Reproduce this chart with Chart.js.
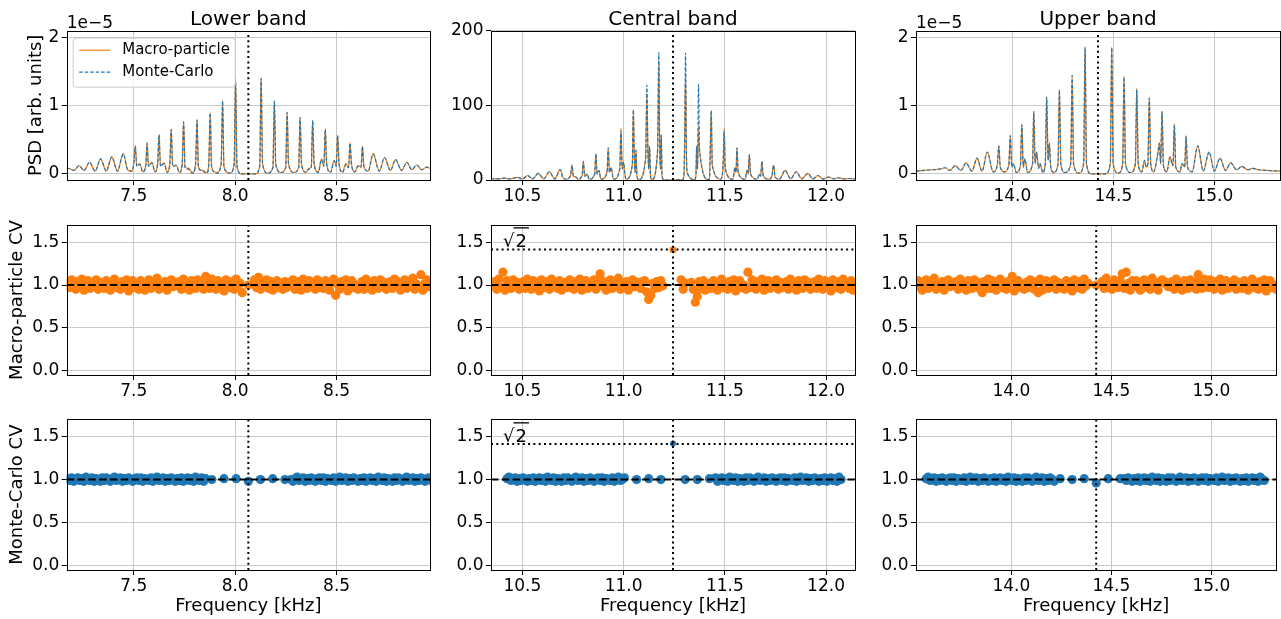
<!DOCTYPE html>
<html>
<head>
<meta charset="utf-8">
<script src="https://cdn.jsdelivr.net/npm/chart.js@4.4.1/dist/chart.umd.min.js"></script>
<style>
  body { margin: 0; background: #fff; width: 1281px; height: 619px; overflow: hidden; position: relative; }
  canvas { position: absolute; }
</style>
</head>
<body>
<script>
// ---- labels ----
const bandTitles = ['Lower band', 'Central band', 'Upper band'];
const legendLabels = ['Macro-particle', 'Monte-Carlo'];
const yTitles = ['PSD [arb. units]', 'Macro-particle CV', 'Monte-Carlo CV'];
const xTitle = 'Frequency [kHz]';
const offsetText = '1e\u22125';

// ---- axes ----
const xRanges = [[7.170, 8.960], [10.345, 12.143], [13.523, 15.325]];
const bandCenters = [8.065, 11.244, 14.424];
const sqrtTwo = 1.414;

// ---- PSD spectra (lower band, units of 1e-5) ----
const lowFreq = [7.170, 7.180, 7.205, 7.231, 7.255, 7.283, 7.310, 7.337, 7.365, 7.392,
  7.420, 7.449, 7.470, 7.490, 7.500, 7.508, 7.515, 7.530, 7.545, 7.560,
  7.566, 7.573, 7.590, 7.605, 7.618, 7.625, 7.632, 7.650, 7.665, 7.678,
  7.685, 7.692, 7.710, 7.725, 7.739, 7.746, 7.753, 7.770, 7.790, 7.805,
  7.812, 7.819, 7.840, 7.860, 7.870, 7.877, 7.884, 7.910, 7.931, 7.938,
  7.945, 7.975, 7.995, 8.002, 8.009, 8.030, 8.065, 8.100, 8.121, 8.128,
  8.135, 8.160, 8.186, 8.193, 8.200, 8.225, 8.249, 8.256, 8.263, 8.290,
  8.313, 8.320, 8.327, 8.350, 8.362, 8.375, 8.382, 8.389, 8.410, 8.425,
  8.437, 8.444, 8.451, 8.470, 8.488, 8.498, 8.505, 8.512, 8.530, 8.545,
  8.559, 8.566, 8.573, 8.590, 8.605, 8.620, 8.627, 8.634, 8.655, 8.680,
  8.710, 8.736, 8.765, 8.790, 8.820, 8.846, 8.870, 8.895, 8.920, 8.944,
  8.960];
const lowMacro = [0.07, 0.08, 0.05, 0.12, 0.05, 0.17, 0.04, 0.22, 0.04, 0.25,
  0.04, 0.30, 0.06, 0.04, 0.15, 0.42, 0.12, 0.15, 0.03, 0.14,
  0.46, 0.12, 0.17, 0.03, 0.15, 0.58, 0.12, 0.16, 0.03, 0.15,
  0.66, 0.12, 0.13, 0.02, 0.15, 0.77, 0.10, 0.08, 0.02, 0.15,
  0.80, 0.10, 0.05, 0.02, 0.15, 0.90, 0.10, 0.02, 0.15, 1.08,
  0.10, 0.01, 0.15, 1.40, 0.12, 0.00, 0.00, 0.00, 0.12, 1.41,
  0.15, 0.01, 0.10, 1.06, 0.15, 0.02, 0.10, 0.91, 0.15, 0.02,
  0.10, 0.82, 0.15, 0.02, 0.08, 0.10, 0.78, 0.15, 0.03, 0.22,
  0.12, 0.66, 0.15, 0.03, 0.20, 0.12, 0.57, 0.15, 0.03, 0.15,
  0.10, 0.46, 0.15, 0.03, 0.12, 0.10, 0.41, 0.12, 0.04, 0.30,
  0.04, 0.24, 0.05, 0.21, 0.05, 0.17, 0.06, 0.13, 0.06, 0.10,
  0.08];
const lowMonte = [0.07, 0.08, 0.05, 0.12, 0.05, 0.17, 0.04, 0.22, 0.04, 0.25,
  0.04, 0.29, 0.06, 0.04, 0.14, 0.40, 0.11, 0.14, 0.03, 0.13,
  0.45, 0.11, 0.16, 0.03, 0.14, 0.57, 0.11, 0.15, 0.02, 0.14,
  0.65, 0.11, 0.12, 0.02, 0.14, 0.76, 0.09, 0.07, 0.01, 0.14,
  0.79, 0.09, 0.04, 0.01, 0.14, 0.89, 0.09, 0.01, 0.14, 1.07,
  0.09, 0.01, 0.14, 1.37, 0.11, 0.00, 0.00, 0.00, 0.11, 1.40,
  0.14, 0.01, 0.09, 1.07, 0.14, 0.02, 0.09, 0.90, 0.14, 0.02,
  0.09, 0.83, 0.14, 0.02, 0.07, 0.09, 0.79, 0.14, 0.02, 0.21,
  0.11, 0.65, 0.14, 0.02, 0.19, 0.11, 0.56, 0.14, 0.02, 0.14,
  0.09, 0.45, 0.14, 0.03, 0.11, 0.09, 0.40, 0.11, 0.04, 0.29,
  0.04, 0.24, 0.05, 0.21, 0.05, 0.17, 0.06, 0.13, 0.06, 0.10,
  0.08];

// ---- PSD spectra (central band) ----
const centFreq = [10.345, 10.380, 10.410, 10.440, 10.477, 10.500, 10.526, 10.550, 10.579, 10.605,
  10.633, 10.660, 10.687, 10.700, 10.715, 10.738, 10.745, 10.752, 10.765, 10.775,
  10.795, 10.801, 10.808, 10.820, 10.830, 10.857, 10.863, 10.869, 10.878, 10.888,
  10.918, 10.924, 10.930, 10.938, 10.950, 10.981, 10.987, 10.993, 11.000, 11.006,
  11.012, 11.043, 11.048, 11.053, 11.057, 11.061, 11.066, 11.075, 11.109, 11.115,
  11.120, 11.124, 11.128, 11.133, 11.140, 11.168, 11.174, 11.178, 11.182, 11.186,
  11.190, 11.200, 11.244, 11.290, 11.298, 11.302, 11.306, 11.310, 11.314, 11.350,
  11.357, 11.361, 11.365, 11.370, 11.375, 11.420, 11.425, 11.428, 11.433, 11.438,
  11.480, 11.488, 11.492, 11.497, 11.502, 11.540, 11.550, 11.555, 11.560, 11.566,
  11.600, 11.610, 11.615, 11.621, 11.627, 11.660, 11.672, 11.677, 11.683, 11.690,
  11.720, 11.733, 11.741, 11.748, 11.770, 11.798, 11.825, 11.853, 11.880, 11.910,
  11.935, 11.960, 11.985, 12.012, 12.040, 12.060, 12.090, 12.110, 12.143];
const centMacro = [2, 1.5, 2.5, 1.5, 3.6, 1.5, 6, 1.5, 9, 1.5,
  11, 1.5, 14, 3, 1, 6, 20, 5, 4, 1,
  6, 25, 5, 8, 1, 8, 35, 8, 13, 1,
  10, 43, 10, 17, 1, 15, 70, 15, 24, 8,
  1, 20, 94, 30, 10, 40, 5, 0.5, 30, 116,
  40, 15, 45, 5, 0.5, 40, 160, 50, 15, 60,
  5, 0.3, 0, 0.3, 5, 60, 142, 40, 10, 0.5,
  5, 45, 15, 72, 40, 0.5, 5, 40, 92, 20,
  1, 8, 24, 70, 15, 1, 17, 10, 43, 10,
  1, 13, 8, 34, 8, 1, 8, 5, 25, 5,
  1, 6, 20, 4, 1, 13, 1.5, 11, 1.5, 9,
  1.5, 6, 1.5, 4, 1.5, 3, 1.5, 2, 1.5];
const centMonte = [2, 1.5, 2.5, 1.5, 3.6, 1.5, 6, 1.5, 9, 1.5,
  11, 1.5, 14, 3, 1, 6, 20, 5, 4, 1,
  6, 25, 5, 8, 1, 8, 35, 8, 13, 1,
  10, 43, 10, 17, 1, 15, 66, 15, 24, 8,
  1, 20, 94, 30, 10, 40, 5, 0.5, 30, 127,
  40, 15, 45, 5, 0.5, 40, 171, 50, 15, 60,
  5, 0.3, 0, 0.3, 5, 60, 170, 40, 10, 0.5,
  5, 45, 15, 128, 40, 0.5, 5, 40, 93, 20,
  1, 8, 24, 66, 15, 1, 17, 10, 43, 10,
  1, 13, 8, 34, 8, 1, 8, 5, 25, 5,
  1, 6, 20, 4, 1, 13, 1.5, 11, 1.5, 9,
  1.5, 6, 1.5, 4, 1.5, 3, 1.5, 2, 1.5];

// ---- PSD spectra (upper band, units of 1e-5) ----
const upFreq = [13.523, 13.560, 13.600, 13.640, 13.668, 13.690, 13.718, 13.745, 13.771, 13.800,
  13.825, 13.850, 13.876, 13.905, 13.925, 13.933, 13.940, 13.960, 13.982, 13.990,
  13.997, 14.005, 14.020, 14.040, 14.047, 14.054, 14.062, 14.075, 14.100, 14.106,
  14.113, 14.120, 14.130, 14.137, 14.150, 14.163, 14.170, 14.177, 14.183, 14.190,
  14.205, 14.226, 14.233, 14.240, 14.260, 14.289, 14.296, 14.303, 14.330, 14.353,
  14.360, 14.367, 14.390, 14.424, 14.460, 14.485, 14.492, 14.499, 14.525, 14.546,
  14.553, 14.560, 14.585, 14.609, 14.616, 14.623, 14.640, 14.655, 14.662, 14.671,
  14.678, 14.685, 14.700, 14.720, 14.728, 14.734, 14.741, 14.748, 14.765, 14.780,
  14.795, 14.802, 14.809, 14.830, 14.840, 14.853, 14.860, 14.867, 14.890, 14.918,
  14.945, 14.974, 15.000, 15.028, 15.055, 15.081, 15.110, 15.136, 15.165, 15.190,
  15.220, 15.260, 15.325];
const upMacro = [0.04, 0.05, 0.06, 0.07, 0.09, 0.05, 0.12, 0.05, 0.16, 0.04,
  0.23, 0.04, 0.32, 0.03, 0.12, 0.41, 0.10, 0.03, 0.12, 0.57,
  0.10, 0.15, 0.02, 0.12, 0.73, 0.10, 0.22, 0.02, 0.15, 0.92,
  0.15, 0.32, 0.08, 0.15, 0.02, 0.15, 1.13, 0.20, 0.45, 0.10,
  0.02, 0.15, 1.24, 0.15, 0.02, 0.15, 1.45, 0.15, 0.01, 0.15,
  1.87, 0.15, 0.00, 0.00, 0.00, 0.15, 1.86, 0.15, 0.01, 0.15,
  1.43, 0.15, 0.02, 0.15, 1.25, 0.15, 0.03, 0.20, 0.10, 0.15,
  1.12, 0.15, 0.03, 0.30, 0.45, 0.15, 0.92, 0.12, 0.03, 0.25,
  0.12, 0.73, 0.10, 0.03, 0.15, 0.10, 0.56, 0.10, 0.03, 0.41,
  0.04, 0.32, 0.04, 0.23, 0.05, 0.16, 0.06, 0.11, 0.06, 0.08,
  0.06, 0.05, 0.04];
const upMonte = [0.04, 0.05, 0.06, 0.07, 0.09, 0.05, 0.12, 0.05, 0.16, 0.04,
  0.23, 0.04, 0.32, 0.03, 0.12, 0.41, 0.10, 0.03, 0.12, 0.56,
  0.10, 0.15, 0.02, 0.12, 0.72, 0.10, 0.22, 0.02, 0.15, 0.91,
  0.15, 0.32, 0.08, 0.15, 0.02, 0.15, 1.12, 0.20, 0.45, 0.10,
  0.02, 0.15, 1.23, 0.15, 0.02, 0.15, 1.44, 0.15, 0.01, 0.15,
  1.85, 0.15, 0.00, 0.00, 0.00, 0.15, 1.85, 0.15, 0.01, 0.15,
  1.42, 0.15, 0.02, 0.15, 1.24, 0.15, 0.03, 0.20, 0.10, 0.15,
  1.11, 0.15, 0.03, 0.30, 0.45, 0.15, 0.91, 0.12, 0.03, 0.25,
  0.12, 0.72, 0.10, 0.03, 0.15, 0.10, 0.55, 0.10, 0.03, 0.41,
  0.04, 0.32, 0.04, 0.23, 0.05, 0.16, 0.06, 0.11, 0.06, 0.08,
  0.06, 0.05, 0.04];

// ---- CV per frequency bin (bin i sits at binStart + i * binStep) ----
const binStart = [7.175, 10.354, 13.534];
const binStep = 0.01;
const lowMacroCV = [
  1.03, 0.97, 1.06, 1.00, 0.95, 1.04, 0.98, 1.07, 0.94, 1.01, 1.05, 0.96, 1.02, 0.99, 1.06, 0.95, 1.03, 0.97,
  0.96, 1.05, 0.99, 0.94, 1.03, 1.07, 0.97, 1.01, 0.95, 1.04, 0.98, 1.06, 0.93, 1.02, 1.05, 0.97, 1.00, 0.95,
  1.05, 0.98, 0.94, 1.02, 1.06, 0.96, 1.03, 0.99, 1.08, 0.95, 1.01, 0.97, 1.04, 0.94, 1.02, 1.06, 0.98, 1.03,
  0.99, 1.04, 0.95, 1.07, 0.97, 1.02, 0.94, 1.05, 1.00, 0.96, 1.06, 0.98, 1.03, 0.95, 1.10, 1.04, 0.96, 1.07,
  1.02, 0.95, 1.05, 0.98, 1.03, 0.93, 1.06, 1.00, 0.97, 1.04, 0.95, 1.07, 0.99, 1.02, 0.91, null, null, 1.00,
  null, null, 1.06, 0.97, 1.09, 0.95, 1.03, 0.99, 1.06, 0.96, 1.04, 0.94, 1.02, 1.05, 0.97, 1.01, 0.95, 1.04,
  0.97, 1.03, 1.00, 1.06, 0.95, 0.98, 1.04, 0.94, 1.07, 1.01, 0.96, 1.05, 0.99, 1.02, 0.95, 1.06, 0.97, 1.03,
  0.96, 1.05, 0.99, 0.94, 1.03, 1.07, 0.88, 1.01, 0.95, 1.04, 0.98, 1.06, 0.93, 1.02, 1.05, 0.97, 1.00, 0.95,
  0.99, 1.04, 0.95, 1.07, 0.97, 1.02, 0.94, 1.05, 1.00, 0.96, 1.06, 0.98, 1.03, 0.95, 1.01, 1.04, 0.96, 1.07,
  1.05, 0.98, 0.94, 1.02, 1.06, 0.96, 1.03, 0.99, 1.08, 0.95, 1.01, 0.97, 1.12, 0.94, 1.02, 1.06, 0.98, 1.03];
const centMacroCV = [
  0.99, 1.04, 0.95, 1.07, 0.97, 1.15, 0.94, 1.05, 1.00, 0.96, 1.06, 0.98, 1.03, 0.95, 1.01, 1.04, 0.96, 1.07,
  1.02, 0.95, 1.05, 0.98, 1.03, 0.93, 1.06, 1.00, 0.97, 1.04, 0.95, 1.07, 0.99, 1.02, 0.96, 1.05, 0.94, 1.01,
  1.03, 0.97, 1.06, 1.00, 0.95, 1.04, 0.98, 1.07, 0.94, 1.01, 1.05, 0.96, 1.02, 0.99, 1.06, 0.95, 1.03, 1.13,
  1.05, 0.98, 0.94, 1.02, 1.06, 0.96, 1.03, 0.99, 1.08, 0.95, 1.01, 0.97, 1.04, 0.94, 1.02, 1.06, 0.98, 1.03,
  1.03, 0.96, 1.04, 1.05, 0.92, 0.83, 0.88, 1.02, 0.96, 1.04, 0.97, 1.05, 0.99, null, null, null, null, null,
  null, null, null, 1.06, 0.95, 1.02, null, null, 1.03, 0.95, 0.80, 0.87, 1.04, 0.96, 1.05, 0.94, 1.02, 0.98,
  0.96, 1.05, 0.99, 0.94, 1.03, 1.07, 0.97, 1.01, 0.95, 1.04, 0.98, 1.06, 0.93, 1.02, 1.05, 0.97, 1.00, 0.95,
  1.15, 0.97, 1.06, 1.00, 0.95, 1.04, 0.98, 1.07, 0.94, 1.01, 1.05, 0.96, 1.02, 0.99, 1.06, 0.95, 1.03, 0.97,
  0.99, 1.04, 0.95, 1.07, 0.97, 1.02, 0.94, 1.05, 1.00, 0.96, 1.06, 0.98, 1.03, 0.95, 1.01, 1.04, 0.96, 1.07,
  1.02, 0.95, 1.05, 0.98, 1.03, 0.93, 1.06, 1.00, 0.97, 1.04, 0.95, 1.07, 0.99, 1.02, 0.96, 1.05, 0.94, 1.01];
const upMacroCV = [
  1.05, 0.98, 0.94, 1.02, 1.06, 0.96, 1.03, 0.99, 1.08, 0.95, 1.01, 0.97, 1.04, 0.94, 1.02, 1.06, 0.98, 1.03,
  0.99, 1.04, 0.95, 1.07, 0.97, 1.02, 0.94, 1.05, 1.00, 0.96, 1.06, 0.98, 1.03, 0.95, 0.91, 1.04, 0.96, 1.07,
  0.96, 1.05, 0.99, 0.94, 1.03, 1.07, 0.97, 1.01, 0.95, 1.04, 0.98, 1.10, 0.93, 1.02, 1.05, 0.97, 1.00, 0.95,
  1.03, 0.97, 1.06, 1.00, 0.95, 1.04, 0.91, 1.07, 0.94, 1.01, 1.05, 0.96, 1.02, 0.99, 1.06, 0.95, 1.03, 0.97,
  1.02, 0.95, 1.05, 0.98, 1.03, 0.93, 1.06, 1.00, 0.97, 1.04, 0.95, 1.07, 0.99, 1.02, null, null, null, 1.00,
  null, null, 1.04, 0.96, 1.08, 0.97, 1.02, 0.95, 1.06, 1.03, 0.97, 1.05, 1.13, 0.96, 1.15, 1.02, 0.94, 1.05,
  0.98, 1.05, 1.02, 0.94, 0.96, 1.06, 0.99, 1.03, 0.95, 1.08, 0.97, 1.01, 0.94, 1.04, 1.06, 1.02, 1.03, 0.98,
  0.99, 1.04, 0.95, 1.07, 0.97, 1.02, 0.94, 1.05, 1.00, 0.96, 1.06, 0.98, 1.03, 0.95, 1.12, 1.04, 0.96, 1.07,
  1.03, 0.97, 1.06, 1.00, 0.95, 1.04, 0.98, 1.07, 0.94, 1.01, 1.05, 0.96, 1.02, 0.99, 1.06, 0.95, 1.03, 0.97,
  0.96, 1.05, 0.99, 0.94, 1.03, 1.07, 0.97, 1.01, 0.95, 1.04, 0.98, 1.06, 0.93, 1.02, 1.05, 0.97, 1.00, 0.95];
const lowMonteCV = [
  1.01, 0.99, 1.02, 0.98, 1.00, 1.02, 0.99, 1.01, 0.98, 1.03, 1.00, 0.99, 1.02, 0.98, 1.01, 1.00, 0.98, 1.02,
  0.99, 1.02, 1.00, 0.98, 1.01, 1.03, 0.99, 1.00, 1.02, 0.98, 1.01, 0.99, 1.02, 1.00, 0.98, 1.01, 1.02, 0.99,
  1.02, 0.98, 1.01, 1.00, 0.99, 1.02, 0.98, 1.01, 1.03, 0.99, 1.00, 1.02, 0.98, 1.01, 0.99, 1.02, 1.00, 0.98,
  1.01, 0.99, 1.02, 0.98, 1.00, 1.02, 0.99, 1.01, 0.98, 1.03, 1.00, 0.99, 1.02, 0.98, 1.01, null, null, 1.00,
  null, null, null, null, null, 1.01, null, null, null, null, null, 1.01, null, null, null, null, null, 0.98,
  null, null, null, null, null, 1.00, null, null, null, null, null, 1.01, null, null, null, null, null, 1.00,
  null, null, 1.00, 0.98, 1.01, 1.03, 0.99, 1.00, 1.02, 0.98, 1.01, 0.99, 1.02, 1.00, 0.98, 1.01, 1.02, 0.99,
  1.02, 0.98, 1.01, 1.00, 0.99, 1.02, 0.98, 1.01, 1.03, 0.99, 1.00, 1.02, 0.98, 1.01, 0.99, 1.02, 1.00, 0.98,
  1.01, 0.99, 1.02, 0.98, 1.00, 1.02, 0.99, 1.01, 0.98, 1.03, 1.00, 0.99, 1.02, 0.98, 1.01, 1.00, 0.98, 1.02,
  0.99, 1.02, 1.00, 0.98, 1.01, 1.03, 0.99, 1.00, 1.02, 0.98, 1.01, 0.99, 1.02, 1.00, 0.98, 1.01, 1.02, 0.99];
const centMonteCV = [
  null, null, null, null, null, null, null, 1.01, 1.03, 0.99, 1.00, 1.02, 0.98, 1.01, 0.99, 1.02, 1.00, 0.98,
  1.01, 0.99, 1.02, 0.98, 1.00, 1.02, 0.99, 1.01, 0.98, 1.03, 1.00, 0.99, 1.02, 0.98, 1.01, 1.00, 0.98, 1.02,
  0.99, 1.02, 1.00, 0.98, 1.01, 1.03, 0.99, 1.00, 1.02, 0.98, 1.01, 0.99, 1.02, 1.00, 0.98, 1.01, 1.02, 0.99,
  1.02, 0.98, 1.01, 1.00, 0.99, 1.02, 0.98, 1.01, 1.03, 0.99, 1.00, 1.02, null, null, null, null, null, 1.00,
  null, null, null, null, null, 1.01, null, null, null, null, null, 1.00, null, null, null, null, null, null,
  null, null, null, null, null, 1.00, null, null, null, null, null, 1.00, null, null, null, null, null, 1.01,
  null, null, 1.02, 0.98, 1.00, 1.02, 0.99, 1.01, 0.98, 1.03, 1.00, 0.99, 1.02, 0.98, 1.01, 1.00, 0.98, 1.02,
  0.99, 1.02, 1.00, 0.98, 1.01, 1.03, 0.99, 1.00, 1.02, 0.98, 1.01, 0.99, 1.02, 1.00, 0.98, 1.01, 1.02, 0.99,
  1.02, 0.98, 1.01, 1.00, 0.99, 1.02, 0.98, 1.01, 1.03, 0.99, 1.00, 1.02, 0.98, 1.01, 0.99, 1.02, 1.00, 0.98,
  1.01, 0.99, 1.02, 0.98, 1.00, 1.02, 0.99, 1.01, 0.98, 1.03, 1.00, null, null, null, null, null, null, null];
const upMonteCV = [
  null, null, null, null, 1.01, 1.03, 0.99, 1.00, 1.02, 0.98, 1.01, 0.99, 1.02, 1.00, 0.98, 1.01, 1.02, 0.99,
  1.02, 0.98, 1.01, 1.00, 0.99, 1.02, 0.98, 1.01, 1.03, 0.99, 1.00, 1.02, 0.98, 1.01, 0.99, 1.02, 1.00, 0.98,
  1.01, 0.99, 1.02, 0.98, 1.00, 1.02, 0.99, 1.01, 0.98, 1.03, 1.00, 0.99, 1.02, 0.98, 1.01, 1.00, 0.98, 1.02,
  0.99, 1.02, 1.00, 0.98, 1.01, 1.03, 0.99, 1.00, 1.02, 0.98, 1.01, 0.99, 1.02, 1.00, 0.98, null, null, 1.01,
  null, null, null, null, null, 1.00, null, null, null, null, null, 1.01, null, null, null, null, null, 0.96,
  null, null, null, null, null, 1.01, null, null, null, null, null, 1.01, null, 1.01, 0.99, 1.02, 1.00, 0.98,
  1.01, 0.99, 1.02, 0.98, 1.00, 1.02, 0.99, 1.01, 0.98, 1.03, 1.00, 0.99, 1.02, 0.98, 1.01, 1.00, 0.98, 1.02,
  0.99, 1.02, 1.00, 0.98, 1.01, 1.03, 0.99, 1.00, 1.02, 0.98, 1.01, 0.99, 1.02, 1.00, 0.98, 1.01, 1.02, 0.99,
  1.02, 0.98, 1.01, 1.00, 0.99, 1.02, 0.98, 1.01, 1.03, 0.99, 1.00, 1.02, 0.98, 1.01, 0.99, 1.02, 1.00, 0.98,
  1.01, 0.99, 1.02, 0.98, 1.00, 1.02, 0.99, 1.01, 0.98, 1.03, 1.00, 0.99, null, null, null, null, null, null];
// CV at the band centre (central band only)
const centMacroPeakCV = 1.41;
const centMontePeakCV = 1.42;

// ---- styling / layout ----
const ORANGE = '#ff7f0e';
const BLUE = '#1f77b4';
const GRID = '#c9c9c9';
const FONT = 'DejaVu Sans';
Chart.defaults.font.family = FONT;
Chart.defaults.color = '#000';

const cols = [
  { cx: 0, cw: 440, left: 66.7, right: 430 },
  { cx: 436, cw: 424, left: 491, right: 855 },
  { cx: 858, cw: 423, left: 916, right: 1280 }
];
const rows = [
  { cy: 0, ch: 215, top: 30.7, bottom: 180, xh: 30 },
  { cy: 195, ch: 215, top: 225, bottom: 375, xh: 30 },
  { cy: 390, ch: 229, top: 419.3, bottom: 570, xh: 46.8 }
];
const yTitleCenter = [36, 17.5, 17];

function pts(xs, ys) {
  return xs.map((x, i) => ({ x, y: ys[i] }));
}
function binPts(start, ys) {
  return ys.map((y, i) => ({ x: +(start + i * binStep).toFixed(3), y })).filter(p => p.y !== null);
}

const framePlugin = {
  id: 'frame',
  afterDraw(chart, args, o) {
    const { ctx, chartArea: a } = chart;
    ctx.save();
    ctx.strokeStyle = '#000';
    ctx.lineWidth = 1;
    const l = Math.round(a.left) + 0.5, t = Math.round(a.top) + 0.5;
    ctx.strokeRect(l, t, Math.round(a.right) - Math.round(a.left), Math.round(a.bottom) - Math.round(a.top));
    ctx.fillStyle = '#000';
    if (o.title) {
      ctx.font = '20px "DejaVu Sans"';
      ctx.textAlign = 'center';
      ctx.textBaseline = 'alphabetic';
      ctx.fillText(o.title, (a.left + a.right) / 2, a.top - 5.7);
    }
    if (o.offset) {
      ctx.font = '17px "DejaVu Sans"';
      ctx.textAlign = 'left';
      ctx.textBaseline = 'alphabetic';
      ctx.fillText(o.offset, a.left, a.top - 2.5);
    }
    if (o.sqrt2) {
      ctx.font = '18px "DejaVu Sans"';
      ctx.textAlign = 'left';
      ctx.textBaseline = 'alphabetic';
      const x = a.left + 12, y = a.top + o.sqrt2;
      ctx.fillText('\u221a', x, y);
      const w = ctx.measureText('\u221a').width;
      ctx.fillText('2', x + w + 1, y);
      const w2 = ctx.measureText('2').width;
      ctx.fillRect(x + w - 1, y - 19.5, w2 + 4, 1.3);
    }
    if (o.legend) {
      const bx = a.left + 6.5, by = a.top + 7.5, bw = 162, bh = 49;
      ctx.beginPath();
      ctx.roundRect(bx, by, bw, bh, 3);
      ctx.fillStyle = 'rgba(255,255,255,0.8)';
      ctx.fill();
      ctx.strokeStyle = '#cccccc';
      ctx.stroke();
      ctx.font = '15px "DejaVu Sans"';
      ctx.textAlign = 'left';
      ctx.textBaseline = 'middle';
      o.legend.forEach((it, i) => {
        const y = by + 12 + i * 22;
        ctx.beginPath();
        ctx.setLineDash(it.dash);
        ctx.strokeStyle = it.color;
        ctx.lineWidth = 1.2;
        ctx.moveTo(bx + 6, y);
        ctx.lineTo(bx + 37, y);
        ctx.stroke();
        ctx.setLineDash([]);
        ctx.fillStyle = '#000';
        ctx.fillText(it.label, bx + 49, y);
      });
    }
    ctx.restore();
  }
};

function refLine(p0, p1, dash) {
  return {
    data: [p0, p1], showLine: true, pointRadius: 0, borderColor: '#000',
    borderWidth: 2, borderDash: dash, tension: 0
  };
}
const DOTTED = [2, 3.3];
const DASHED = [7.5, 3.3];

function makePanel(r, c, yCfg, datasets, frame) {
  const col = cols[c], row = rows[r];
  const cv = document.createElement('canvas');
  cv.width = col.cw;
  cv.height = row.ch;
  cv.style.left = col.cx + 'px';
  cv.style.top = row.cy + 'px';
  document.body.appendChild(cv);
  const padLeft = c === 0 ? yTitleCenter[r] - 10.8 : 0;
  const yw = col.left - col.cx - padLeft;
  const xh = row.xh;
  const gridOpts = { color: GRID, lineWidth: 1, tickLength: 5, tickColor: '#000', tickWidth: 1 };
  new Chart(cv, {
    type: 'scatter',
    data: { datasets },
    options: {
      responsive: false,
      animation: false,
      devicePixelRatio: 1,
      events: [],
      layout: {
        padding: {
          left: padLeft,
          right: col.cx + col.cw - col.right,
          top: row.top - row.cy,
          bottom: row.cy + row.ch - row.bottom - xh
        }
      },
      plugins: { legend: { display: false }, tooltip: { enabled: false }, frame },
      scales: {
        x: {
          type: 'linear', min: xRanges[c][0], max: xRanges[c][1],
          afterFit: s => { s.height = xh; },
          ticks: {
            stepSize: 0.5, includeBounds: false, autoSkip: false, maxRotation: 0,
            padding: 1, color: '#000', font: { family: FONT, size: 17 },
            callback: v => v.toFixed(1)
          },
          grid: gridOpts,
          border: { display: false },
          title: r === 2
            ? { display: true, text: xTitle, color: '#000', font: { family: FONT, size: 18 }, padding: 0 }
            : { display: false }
        },
        y: {
          type: 'linear', min: yCfg.min, max: yCfg.max,
          afterFit: s => { s.width = yw; },
          ticks: {
            stepSize: yCfg.step, includeBounds: false, padding: 2.5, color: '#000',
            font: { family: FONT, size: 17 }, callback: yCfg.fmt
          },
          grid: gridOpts,
          border: { display: false },
          title: c === 0
            ? { display: true, text: yTitles[r], color: '#000', font: { family: FONT, size: 18 }, padding: 0 }
            : { display: false }
        }
      }
    },
    plugins: [framePlugin]
  });
}

const psdAxis = { min: -0.09, max: 2.1, step: 1, fmt: v => String(v) };
const centAxis = { min: 0, max: 200, step: 100, fmt: v => String(v) };
const cvAxis = { min: -0.05, max: 1.7, step: 0.5, fmt: v => v.toFixed(1) };

const spectra = [
  [lowFreq, lowMacro, lowMonte, psdAxis],
  [centFreq, centMacro, centMonte, centAxis],
  [upFreq, upMacro, upMonte, psdAxis]
];
const macroCV = [lowMacroCV, centMacroCV, upMacroCV];
const monteCV = [lowMonteCV, centMonteCV, upMonteCV];

// top row: spectra
spectra.forEach(([f, mp, mc, ax], c) => {
  const cen = bandCenters[c];
  const frame = { title: bandTitles[c] };
  if (c !== 1) frame.offset = offsetText;
  if (c === 0) frame.legend = [
    { label: legendLabels[0], color: ORANGE, dash: [] },
    { label: legendLabels[1], color: BLUE, dash: [3.5, 2] }
  ];
  makePanel(0, c, ax, [
    refLine({ x: cen, y: ax.min }, { x: cen, y: ax.max }, DOTTED),
    { data: pts(f, mc), showLine: true, borderColor: BLUE, borderWidth: 1.2, borderDash: [3.5, 2],
      pointRadius: 0, cubicInterpolationMode: 'monotone' },
    { data: pts(f, mp), showLine: true, borderColor: ORANGE, borderWidth: 1.2,
      pointRadius: 0, cubicInterpolationMode: 'monotone' }
  ], frame);
});

// middle and bottom rows: CV scatter
[[macroCV, ORANGE, centMacroPeakCV, 3.5, 21.7], [monteCV, BLUE, centMontePeakCV, 3, 22.4]].forEach(([cvSets, color, peak, peakR, sq], k) => {
  const r = k + 1;
  cvSets.forEach((vals, c) => {
    const cen = bandCenters[c];
    const [x0, x1] = xRanges[c];
    const ds = [
      refLine({ x: cen, y: cvAxis.min }, { x: cen, y: cvAxis.max }, DOTTED),
      refLine({ x: x0, y: 1 }, { x: x1, y: 1 }, DASHED)
    ];
    const frame = {};
    if (c === 1) {
      ds.push(refLine({ x: x0, y: sqrtTwo }, { x: x1, y: sqrtTwo }, DOTTED));
      ds.push({ data: [{ x: cen, y: peak }], backgroundColor: color, pointRadius: peakR, pointBorderWidth: 0, clip: 0 });
      frame.sqrt2 = sq;
    }
    ds.push({ data: binPts(binStart[c], vals), backgroundColor: color, pointRadius: 4.6, pointBorderWidth: 0, clip: 0 });
    makePanel(r, c, cvAxis, ds, frame);
  });
});
</script>
</body>
</html>
